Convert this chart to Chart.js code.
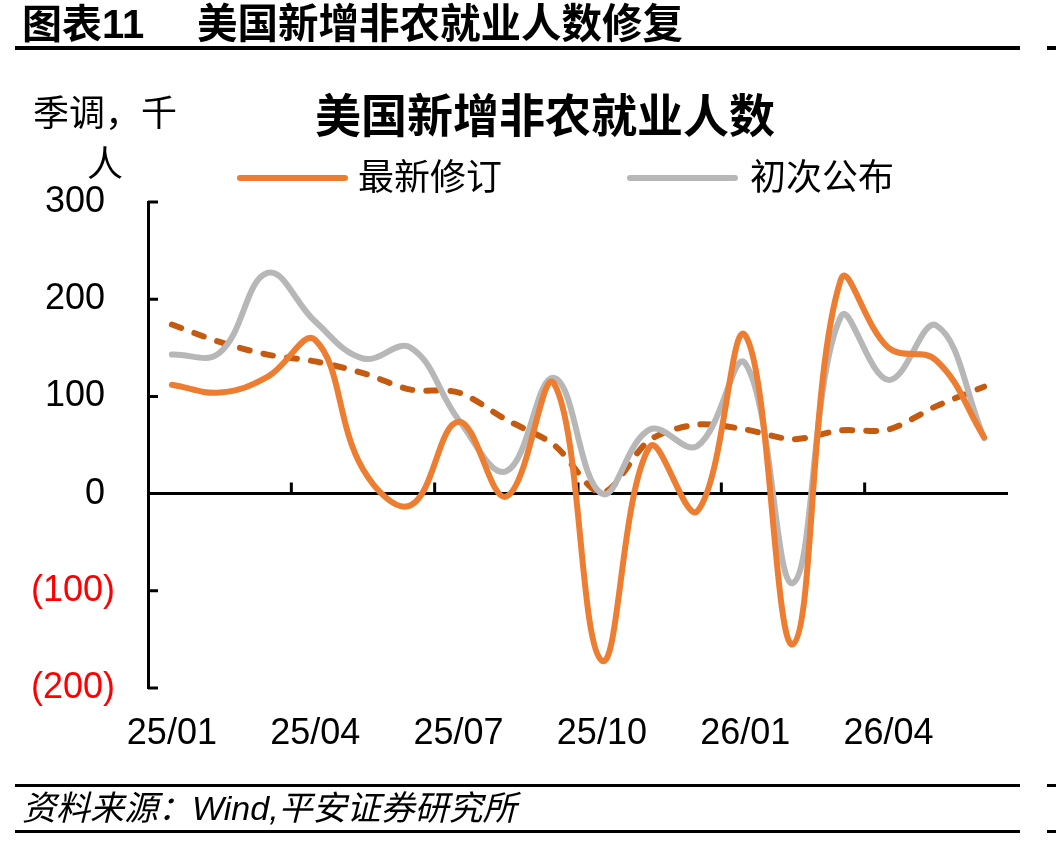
<!DOCTYPE html>
<html>
<head>
<meta charset="utf-8">
<script src="https://cdn.jsdelivr.net/npm/chart.js@4/dist/chart.umd.min.js"></script>
<style>
    body { margin: 0; background: #fff; }
    #page { position: relative; width: 1056px; height: 843px; overflow: hidden; font-family: 'Liberation Sans', 'Noto Sans CJK SC', sans-serif; color: #000; }
    #chartBox { position: absolute; left: 0; top: 0; width: 1056px; height: 843px; }
    .txt { position: absolute; white-space: nowrap; line-height: 1; }
    .rule { position: absolute; background: #000; }
    .legend-line { position: absolute; height: 6px; border-radius: 3px; }
</style>
</head>
<body>
<div id="page">
    <div id="chartBox"><canvas id="nfpChart"></canvas></div>

    <div class="txt" style="left:22px; top:4px; font-size:40px; font-weight:bold;">图表11</div>
    <div class="txt" style="left:197px; top:4px; font-size:40.5px; font-weight:bold;">美国新增非农就业人数修复</div>
    <div class="rule" style="left:15px; top:46px; width:1005px; height:4px;"></div>
    <div class="rule" style="left:1047px; top:46px; width:9px; height:4px;"></div>

    <div class="txt" style="left:315px; top:93px; font-size:46px; font-weight:bold;">美国新增非农就业人数</div>

    <div class="txt" style="left:33px; top:96px; font-size:36px; width:144px; text-align:center;">季调，千</div>
    <div class="txt" style="left:33px; top:147px; font-size:36px; width:144px; text-align:center;">人</div>

    <div class="legend-line" style="left:237px; top:175px; width:111px; background:#ED7D31;"></div>
    <div class="txt" style="left:358px; top:160px; font-size:36px;">最新修订</div>
    <div class="legend-line" style="left:627px; top:175px; width:111px; background:#B7B7B7;"></div>
    <div class="txt" style="left:750px; top:160px; font-size:36px;">初次公布</div>

    <div class="rule" style="left:15px; top:784px; width:1005px; height:3px;"></div>
    <div class="rule" style="left:1047px; top:784px; width:9px; height:3px;"></div>
    <div class="txt" style="left:22px; top:791px; font-size:34px; font-style:italic;">资料来源：Wind,平安证券研究所</div>
    <div class="rule" style="left:15px; top:830px; width:1005px; height:3px;"></div>
    <div class="rule" style="left:1047px; top:830px; width:9px; height:3px;"></div>
</div>

<script>
// Monate (x-Achse)
const months = ['25/01', '25/02', '25/03', '25/04', '25/05', '25/06', '25/07', '25/08', '25/09',
                '25/10', '25/11', '25/12', '26/01', '26/02', '26/03', '26/04', '26/05', '26/06'];

// Series, thousand persons (seasonally adjusted)
const latestRevision = [112, 104, 120, 158, 25, -12, 74, -3, 113, -172, 48, -18, 163, -155, 220, 150, 137, 58];
const firstRelease = [143, 145, 227, 177, 139, 150, 76, 23, 119, 0, 66, 49, 134, -92, 182, 117, 173, 57];
const trendLine = [174, 156, 143, 136, 124, 107, 104, 76, 50, 1, 55, 71, 66, 56, 65, 66, 90, 110];

// y-axis ticks
const yMin = -200;
const yMax = 300;
const yStep = 100;

// Zero line + inward tick marks, drawn under the series like in Excel
const axisMarks = {
    id: 'axisMarks',
    beforeDatasetsDraw(chart) {
        const { ctx, chartArea, scales } = chart;
        const x = scales.x;
        const y = scales.y;
        const y0 = y.getPixelForValue(0);
        ctx.save();
        ctx.strokeStyle = '#000';
        ctx.lineWidth = 3;
        ctx.beginPath();
        ctx.moveTo(chartArea.left, y0);
        ctx.lineTo(chartArea.right, y0);
        // ticks between categories, every 3 months
        for (let k = 3; k < months.length; k += 3) {
            const px = (x.getPixelForValue(k - 1) + x.getPixelForValue(k)) / 2;
            ctx.moveTo(px, y0);
            ctx.lineTo(px, y0 - 11);
        }
        // y ticks pointing inside
        y.ticks.forEach(t => {
            const py = y.getPixelForValue(t.value);
            ctx.moveTo(chartArea.left, py);
            ctx.lineTo(chartArea.left + 10, py);
        });
        ctx.stroke();
        ctx.restore();
    }
};

function createChart() {
    const ctx = document.getElementById('nfpChart').getContext('2d');

    new Chart(ctx, {
        type: 'line',
        data: {
            labels: months,
            datasets: [{
                label: '趋势',
                data: trendLine,
                borderColor: '#C55A11',
                borderWidth: 6,
                borderDash: [10, 14],
                borderCapStyle: 'round',
                tension: 0.3,
                pointRadius: 0,
                order: 3
            }, {
                label: '初次公布',
                data: firstRelease,
                borderColor: '#B7B7B7',
                borderWidth: 6,
                borderCapStyle: 'round',
                borderJoinStyle: 'round',
                tension: 0.4,
                pointRadius: 0,
                order: 2
            }, {
                label: '最新修订',
                data: latestRevision,
                borderColor: '#ED7D31',
                borderWidth: 6,
                borderCapStyle: 'round',
                borderJoinStyle: 'round',
                tension: 0.4,
                pointRadius: 0,
                order: 1
            }]
        },
        options: {
            responsive: true,
            maintainAspectRatio: false,
            animation: false,
            devicePixelRatio: 1,
            layout: {
                padding: { left: 0, right: 48, top: 202, bottom: 85 }
            },
            scales: {
                x: {
                    offset: true,
                    grid: { display: false, drawTicks: false },
                    border: { display: false },
                    ticks: {
                        autoSkip: false,
                        maxRotation: 0,
                        padding: 24,
                        color: '#000',
                        font: { family: "'Liberation Sans', Arial, sans-serif", size: 36 },
                        callback: function(value, index) {
                            return index % 3 === 0 ? months[index] : '';
                        }
                    },
                    afterFit: scale => { scale.height = 70; }
                },
                y: {
                    min: yMin,
                    max: yMax,
                    grid: { display: false, drawTicks: false },
                    border: { display: true, color: '#000', width: 3 },
                    ticks: {
                        stepSize: yStep,
                        padding: 33,
                        color: c => c.tick.value < 0 ? '#FF0000' : '#000',
                        font: { family: "'Liberation Sans', Arial, sans-serif", size: 36 },
                        callback: v => v < 0 ? '(' + Math.abs(v) + ')' : v + ' '
                    },
                    afterFit: scale => { scale.width = 148; }
                }
            },
            plugins: {
                legend: { display: false },
                title: { display: false },
                tooltip: { enabled: false }
            }
        },
        plugins: [axisMarks]
    });
}

createChart();
</script>
</body>
</html>
